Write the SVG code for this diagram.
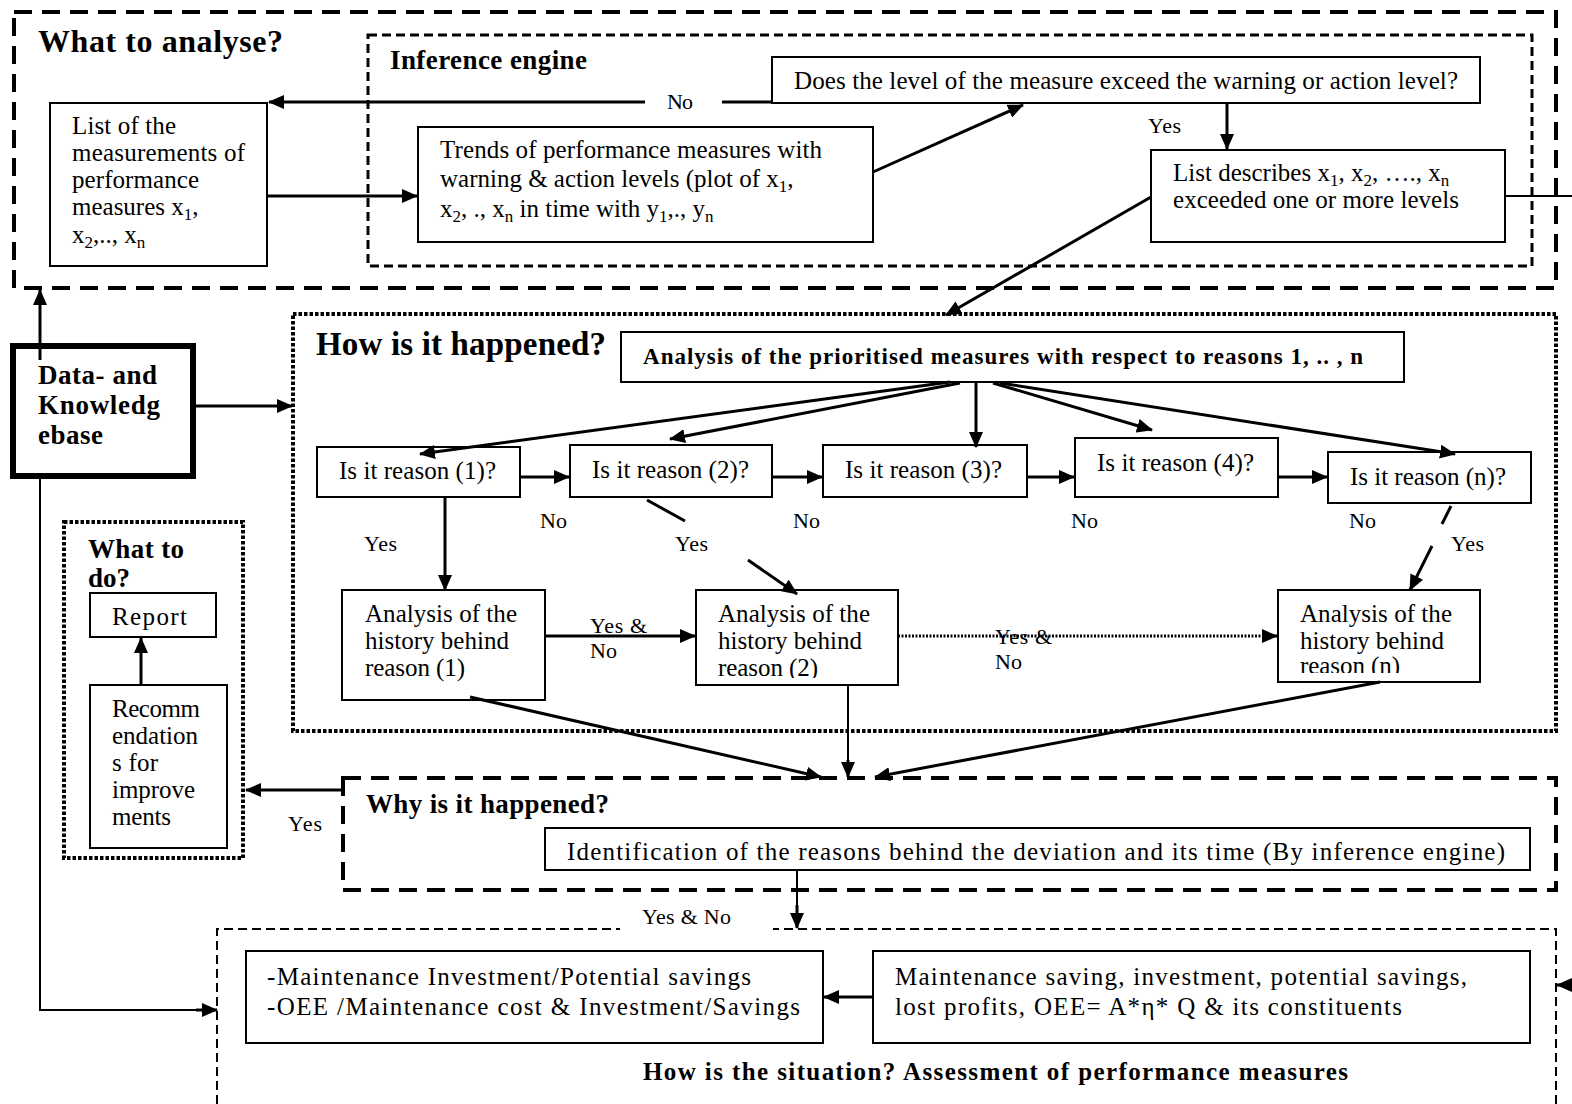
<svg xmlns="http://www.w3.org/2000/svg" width="1572" height="1104" viewBox="0 0 1572 1104">
<defs>
<style>
.t{font-family:"Liberation Serif","Times New Roman",serif;font-size:25px;fill:#000}
.l{font-family:"Liberation Serif","Times New Roman",serif;font-size:22px;fill:#000}
.b{font-family:"Liberation Serif","Times New Roman",serif;font-weight:bold;fill:#000}
.box{fill:#fff;stroke:#000;stroke-width:2}
.cn{fill:none;stroke:#000;stroke-width:3}
.thin{fill:none;stroke:#000;stroke-width:2}
.dashL{fill:none;stroke:#000;stroke-width:4;stroke-dasharray:18 10}
.dashS{fill:none;stroke:#000;stroke-width:3;stroke-dasharray:9 5}
.dot{fill:none;stroke:#000;stroke-width:4;stroke-dasharray:3.5 2}
.dashB{fill:none;stroke:#000;stroke-width:2;stroke-dasharray:9 5}
.sub{font-size:17px}
</style>
<marker id="ah" markerWidth="16" markerHeight="14" refX="15" refY="7" orient="auto" markerUnits="userSpaceOnUse"><path d="M0,0 L16,7 L0,14 z" fill="#000"/></marker>
<clipPath id="c2"><rect x="696" y="590" width="204" height="88"/></clipPath>
<clipPath id="cn"><rect x="1278" y="590" width="204" height="83"/></clipPath>
<clipPath id="cid"><rect x="545" y="828" width="986" height="38"/></clipPath>
</defs>
<rect width="1572" height="1104" fill="#fff"/>

<g id="containers">
<g id="what-to-analyse"><rect class="dashL" x="14" y="12" width="1542" height="276"/><text class="b" x="38" y="52" font-size="32" textLength="245">What to analyse?</text></g>
<g id="inference-engine"><rect class="dashS" x="368" y="35" width="1164" height="231"/><text class="b" x="390" y="69" font-size="27" textLength="197">Inference engine</text></g>
<g id="how-happened"><rect class="dot" x="293" y="314" width="1263" height="417"/><text class="b" x="316" y="355" font-size="33" textLength="290">How is it happened?</text></g>
<g id="what-to-do"><rect class="dot" x="64" y="522" width="179" height="336"/><text class="b" x="88" y="558" font-size="27" textLength="96">What to</text><text class="b" x="88" y="587" font-size="27" textLength="42">do?</text></g>
<g id="why-happened"><rect class="dashL" x="343" y="778" width="1213" height="112"/><text class="b" x="366" y="813" font-size="27" textLength="243">Why is it happened?</text></g>
<g id="how-situation"><path class="dashB" d="M217,1104 V929 H1556 V1104"/><text class="b" x="643" y="1080" font-size="25" textLength="705">How is the situation? Assessment of performance measures</text></g>
</g>

<g id="n-list-measurements"><rect class="box" x="50" y="103" width="217" height="163"/>
<text class="t" x="72" y="134" textLength="104">List of the</text>
<text class="t" x="72" y="161" textLength="173">measurements of</text>
<text class="t" x="72" y="188" textLength="127">performance</text>
<text class="t" x="72" y="215">measures x<tspan class="sub" dy="5">1</tspan><tspan dy="-5">,</tspan></text>
<text class="t" x="72" y="243">x<tspan class="sub" dy="5">2</tspan><tspan dy="-5">,.., x</tspan><tspan class="sub" dy="5">n</tspan></text>
</g>
<g id="n-trends"><rect class="box" x="418" y="127" width="455" height="115"/>
<text class="t" x="440" y="158" textLength="382">Trends of performance measures with</text>
<text class="t" x="440" y="187">warning &amp; action levels (plot of x<tspan class="sub" dy="5">1</tspan><tspan dy="-5">,</tspan></text>
<text class="t" x="440" y="217">x<tspan class="sub" dy="5">2</tspan><tspan dy="-5">, ., x</tspan><tspan class="sub" dy="5">n</tspan><tspan dy="-5"> in time with y</tspan><tspan class="sub" dy="5">1</tspan><tspan dy="-5">,., y</tspan><tspan class="sub" dy="5">n</tspan></text>
</g>
<g id="n-does-level"><rect class="box" x="772" y="57" width="708" height="46"/>
<text class="t" x="794" y="89" textLength="664">Does the level of the measure exceed the warning or action level?</text>
</g>
<g id="n-list-describes"><rect class="box" x="1151" y="150" width="354" height="92"/>
<text class="t" x="1173" y="181">List describes x<tspan class="sub" dy="5">1</tspan><tspan dy="-5">, x</tspan><tspan class="sub" dy="5">2</tspan><tspan dy="-5">, …., x</tspan><tspan class="sub" dy="5">n</tspan></text>
<text class="t" x="1173" y="208" textLength="286">exceeded one or more levels</text>
</g>
<g id="n-database"><rect x="13" y="346" width="180" height="130" fill="#fff" stroke="#000" stroke-width="6"/>
<text class="b" x="38" y="384" font-size="27" textLength="119">Data- and</text>
<text class="b" x="38" y="414" font-size="27" textLength="122">Knowledg</text>
<text class="b" x="38" y="444" font-size="27" textLength="65">ebase</text>
</g>
<g id="n-analysis-prioritised"><rect class="box" x="621" y="332" width="783" height="50"/>
<text class="b" x="643" y="364" font-size="23" textLength="720">Analysis of the prioritised measures with respect to reasons 1, .. ,  n</text>
</g>
<g id="n-reason1"><rect class="box" x="317" y="447" width="203" height="50"/><text class="t" x="339" y="479" textLength="157">Is it reason (1)?</text></g>
<g id="n-reason2"><rect class="box" x="570" y="445" width="202" height="52"/><text class="t" x="592" y="478" textLength="157">Is it reason (2)?</text></g>
<g id="n-reason3"><rect class="box" x="823" y="445" width="204" height="52"/><text class="t" x="845" y="478" textLength="157">Is it reason (3)?</text></g>
<g id="n-reason4"><rect class="box" x="1075" y="438" width="203" height="59"/><text class="t" x="1097" y="471" textLength="157">Is it reason (4)?</text></g>
<g id="n-reasonn"><rect class="box" x="1328" y="452" width="203" height="51"/><text class="t" x="1350" y="485" textLength="156">Is it reason (n)?</text></g>

<g id="n-history1"><rect class="box" x="342" y="590" width="203" height="110"/>
<text class="t" x="365" y="622" textLength="152">Analysis of the</text>
<text class="t" x="365" y="649" textLength="144">history behind</text>
<text class="t" x="365" y="676" textLength="100">reason (1)</text>
</g>
<g id="n-history2"><rect class="box" x="696" y="590" width="202" height="95"/>
<text class="t" x="718" y="622" textLength="152">Analysis of the</text>
<text class="t" x="718" y="649" textLength="144">history behind</text>
<text class="t" x="718" y="676" textLength="100" clip-path="url(#c2)">reason (2)</text>
</g>
<g id="n-historyn"><rect class="box" x="1278" y="590" width="202" height="92"/>
<text class="t" x="1300" y="622" textLength="152">Analysis of the</text>
<text class="t" x="1300" y="649" textLength="144">history behind</text>
<text class="t" x="1300" y="674" textLength="100" clip-path="url(#cn)">reason (n)</text>
</g>

<g id="n-report"><rect class="box" x="90" y="593" width="126" height="44"/><text class="t" x="112" y="625" textLength="75">Report</text></g>
<g id="n-recommendations"><rect class="box" x="90" y="685" width="137" height="163"/>
<text class="t" x="112" y="717" textLength="88">Recomm</text>
<text class="t" x="112" y="744" textLength="86">endation</text>
<text class="t" x="112" y="771" textLength="46">s for</text>
<text class="t" x="112" y="798" textLength="83">improve</text>
<text class="t" x="112" y="825" textLength="59">ments</text>
</g>

<g id="n-identification"><rect class="box" x="545" y="828" width="985" height="42"/>
<text class="t" x="567" y="860" font-size="27" textLength="938" clip-path="url(#cid)">Identification of the reasons behind the deviation and its time (By inference engine)</text>
</g>
<g id="n-ratios"><rect class="box" x="246" y="951" width="577" height="92"/>
<text class="t" x="267" y="985" font-size="29" textLength="484">-Maintenance Investment/Potential savings</text>
<text class="t" x="267" y="1015" font-size="29" textLength="533">-OEE /Maintenance cost &amp; Investment/Savings</text>
</g>
<g id="n-savings"><rect class="box" x="873" y="951" width="657" height="92"/>
<text class="t" x="895" y="985" font-size="29" textLength="572">Maintenance saving, investment, potential savings,</text>
<text class="t" x="895" y="1015" font-size="29" textLength="507">lost profits, OEE= A*η* Q &amp; its constituents</text>
</g>

<g id="connectors">
<line class="cn" x1="645" y1="102" x2="269" y2="102" marker-end="url(#ah)"/>
<line class="cn" x1="722" y1="102" x2="772" y2="102"/>
<text class="l" x="667" y="109" textLength="26">No</text>
<line class="cn" x1="267" y1="196" x2="417" y2="196" marker-end="url(#ah)"/>
<line class="cn" x1="873" y1="172" x2="1023" y2="105" marker-end="url(#ah)"/>
<line class="cn" x1="1227" y1="103" x2="1227" y2="149" marker-end="url(#ah)"/>
<text class="l" x="1148" y="133" textLength="33">Yes</text>
<line class="thin" x1="1505" y1="196" x2="1572" y2="196"/>
<line class="cn" x1="1151" y1="197" x2="946" y2="315" marker-end="url(#ah)"/>

<line class="cn" x1="40" y1="360" x2="40" y2="290" marker-end="url(#ah)"/>
<line class="cn" x1="193" y1="406" x2="292" y2="406" marker-end="url(#ah)"/>
<polyline class="thin" points="40,476 40,1010 200,1010"/>
<line class="cn" x1="196" y1="1010" x2="217" y2="1010" marker-end="url(#ah)"/>

<line class="cn" x1="950" y1="382" x2="420" y2="454" marker-end="url(#ah)"/>
<line class="cn" x1="960" y1="383" x2="670" y2="439" marker-end="url(#ah)"/>
<line class="cn" x1="976" y1="382" x2="976" y2="447" marker-end="url(#ah)"/>
<line class="cn" x1="993" y1="383" x2="1152" y2="430" marker-end="url(#ah)"/>
<line class="cn" x1="1000" y1="383" x2="1455" y2="454" marker-end="url(#ah)"/>

<line class="cn" x1="520" y1="477" x2="569" y2="477" marker-end="url(#ah)"/>
<line class="cn" x1="772" y1="477" x2="822" y2="477" marker-end="url(#ah)"/>
<line class="cn" x1="1027" y1="477" x2="1074" y2="477" marker-end="url(#ah)"/>
<line class="cn" x1="1278" y1="477" x2="1327" y2="477" marker-end="url(#ah)"/>

<text class="l" x="540" y="528" textLength="27">No</text>
<text class="l" x="793" y="528" textLength="27">No</text>
<text class="l" x="1071" y="528" textLength="27">No</text>
<text class="l" x="1349" y="528" textLength="27">No</text>
<text class="l" x="364" y="551" textLength="33">Yes</text>
<text class="l" x="675" y="551" textLength="33">Yes</text>
<text class="l" x="1451" y="551" textLength="33">Yes</text>

<line class="cn" x1="445" y1="497" x2="445" y2="590" marker-end="url(#ah)"/>
<line class="cn" x1="647" y1="500" x2="685" y2="521"/>
<line class="cn" x1="748" y1="560" x2="797" y2="594" marker-end="url(#ah)"/>
<line class="cn" x1="1451" y1="506" x2="1442" y2="524"/>
<line class="cn" x1="1432" y1="546" x2="1410" y2="590" marker-end="url(#ah)"/>

<line class="cn" x1="545" y1="636" x2="695" y2="636" marker-end="url(#ah)"/>
<text class="l" x="590" y="633" textLength="57">Yes &amp;</text>
<text class="l" x="590" y="658" textLength="27">No</text>
<line fill="none" stroke="#000" stroke-width="3" stroke-dasharray="2 1.5" x1="898" y1="636" x2="1265" y2="636"/>
<line class="cn" x1="1262" y1="636" x2="1277" y2="636" marker-end="url(#ah)"/>
<text class="l" x="995" y="644" textLength="57">Yes &amp;</text>
<text class="l" x="995" y="669" textLength="27">No</text>

<line class="cn" x1="470" y1="697" x2="821" y2="777" marker-end="url(#ah)"/>
<line class="thin" x1="848" y1="685" x2="848" y2="770"/>
<line class="cn" x1="848" y1="760" x2="848" y2="777" marker-end="url(#ah)"/>
<line class="cn" x1="1380" y1="682" x2="875" y2="777" marker-end="url(#ah)"/>

<polyline class="cn" points="343,780 343,790 246,790" marker-end="url(#ah)"/>
<text class="l" x="288" y="831" textLength="34">Yes</text>

<line class="thin" x1="797" y1="870" x2="797" y2="915"/>
<line class="cn" x1="797" y1="905" x2="797" y2="928" marker-end="url(#ah)"/>
<rect x="620" y="922" width="153" height="14" fill="#fff"/>
<text class="l" x="642" y="924" textLength="89">Yes &amp; No</text>

<line class="cn" x1="141" y1="685" x2="141" y2="638" marker-end="url(#ah)"/>
<line class="cn" x1="873" y1="997" x2="824" y2="997" marker-end="url(#ah)"/>
<line class="cn" x1="1572" y1="985" x2="1557" y2="985" marker-end="url(#ah)"/>
</g>
</svg>
